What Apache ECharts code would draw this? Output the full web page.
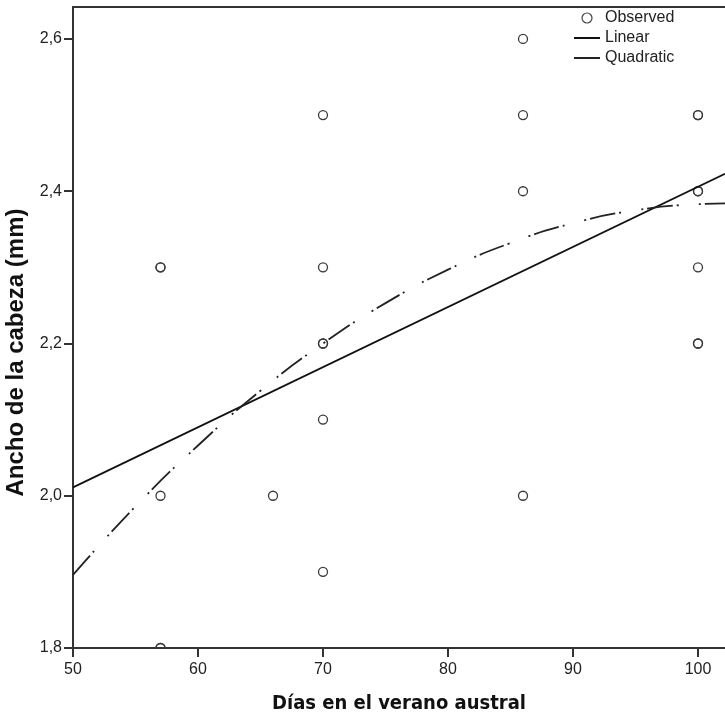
<!DOCTYPE html>
<html>
<head>
<meta charset="utf-8">
<script src="https://cdn.jsdelivr.net/npm/echarts@6/dist/echarts.min.js"></script>
<style>
html,body{margin:0;padding:0;background:#fff;}
#chart{width:725px;height:716px;}
</style>
</head>
<body>
<div id="chart"></div>
<script>
// ---- data ----
const xTicks = [50, 60, 70, 80, 90, 100];
const yTicks = [1.8, 2.0, 2.2, 2.4, 2.6];
// observed points (duplicates drawn as bold circles in the reference)
const obsDays  = [57, 57, 57, 57, 57, 66, 70, 70, 70, 70, 70, 70, 86, 86, 86, 86, 100, 100, 100, 100, 100, 100, 100];
const obsWidth = [2.3, 2.3, 2.0, 1.8, 1.8, 2.0, 2.5, 2.3, 2.2, 2.2, 2.1, 1.9, 2.6, 2.5, 2.4, 2.0, 2.5, 2.5, 2.4, 2.4, 2.3, 2.2, 2.2];
// linear fit line
const linearDays  = [50, 102.16];
const linearWidth = [2.011, 2.423];
// quadratic fit curve
const quadDays  = [50, 55, 60, 65, 70, 75, 80, 85, 90, 95, 100, 102.16];
const quadWidth = [1.896, 1.986, 2.066, 2.138, 2.200, 2.253, 2.297, 2.332, 2.358, 2.375, 2.383, 2.384];

const zip = (a, b) => a.map((v, i) => [v, b[i]]);

const chart = echarts.init(document.getElementById('chart'), null, {renderer: 'canvas'});
const axisColor = '#333';
const labelFont = 'Liberation Sans, Arial, sans-serif';
const noSymbol = {color: 'rgba(0,0,0,0)', borderColor: 'rgba(0,0,0,0)', borderWidth: 0};

chart.setOption({
  backgroundColor: '#fff',
  animation: false,
  grid: {left: 73, right: 0, top: 7, bottom: 68, containLabel: false, outerBoundsMode: 'none'},
  legend: {
    orient: 'vertical',
    left: 573, top: 10,
    padding: 0,
    itemWidth: 26, itemHeight: 10, itemGap: 4,
    textStyle: {fontSize: 16, fontFamily: labelFont, color: '#222'},
    data: [
      {name: 'Observed', icon: 'circle', itemStyle: {color: 'rgba(0,0,0,0)', borderColor: '#444', borderWidth: 1.2}},
      {name: 'Linear', itemStyle: noSymbol},
      {name: 'Quadratic', itemStyle: noSymbol}
    ]
  },
  xAxis: [{
    type: 'value', min: 50, max: 102.16, position: 'bottom',
    name: 'Días en el verano austral', nameLocation: 'middle', nameGap: 46,
    nameTextStyle: {fontFamily: '"DejaVu Sans Condensed", "DejaVu Sans", sans-serif', fontWeight: 'bold', fontSize: 20, color: '#111'},
    axisLine: {show: true, onZero: false, lineStyle: {color: axisColor, width: 2}},
    axisTick: {show: true, length: 9, customValues: xTicks, lineStyle: {color: axisColor, width: 2}},
    axisLabel: {customValues: xTicks, margin: 14, fontSize: 16, fontFamily: labelFont, color: '#222'},
    splitLine: {show: false}
  }, {
    type: 'value', min: 50, max: 102.16, position: 'top',
    axisLine: {show: true, onZero: false, lineStyle: {color: axisColor, width: 2}},
    axisTick: {show: false}, axisLabel: {show: false}, splitLine: {show: false}
  }],
  yAxis: {
    type: 'value', min: 1.8, max: 2.642,
    name: 'Ancho de la cabeza (mm)', nameLocation: 'middle', nameGap: 35,
    nameTextStyle: {fontFamily: labelFont, fontWeight: 'bold', fontSize: 24, color: '#111', padding: [0, 50, 0, 0]},
    axisLine: {show: true, onZero: false, lineStyle: {color: axisColor, width: 2}},
    axisTick: {show: true, length: 9, customValues: yTicks, lineStyle: {color: axisColor, width: 2}},
    axisLabel: {customValues: yTicks, margin: 11, fontSize: 16, fontFamily: labelFont, color: '#222',
      formatter: v => v.toFixed(1).replace('.', ',')},
    splitLine: {show: false}
  },
  series: [
    {
      name: 'Observed', type: 'custom', clip: true, z: 3,
      itemStyle: {color: '#444'},
      data: zip(obsDays, obsWidth),
      renderItem: function (params, api) {
        const p = api.coord([api.value(0), api.value(1)]);
        return {type: 'circle', shape: {cx: p[0], cy: p[1], r: 4.5},
          style: {fill: null, stroke: '#3a3a3a', lineWidth: 1.3}};
      }
    },
    {
      name: 'Linear', type: 'line', symbol: 'none', showSymbol: false,
      data: zip(linearDays, linearWidth),
      lineStyle: {color: '#111', width: 1.7},
      itemStyle: {color: '#111'}
    },
    {
      name: 'Quadratic', type: 'line', symbol: 'none', showSymbol: false, smooth: true,
      data: zip(quadDays, quadWidth),
      lineStyle: {color: '#222', width: 1.8, type: [26, 4, 2, 20, 2, 4]},
      itemStyle: {color: '#222'}
    }
  ]
});
</script>
</body>
</html>
